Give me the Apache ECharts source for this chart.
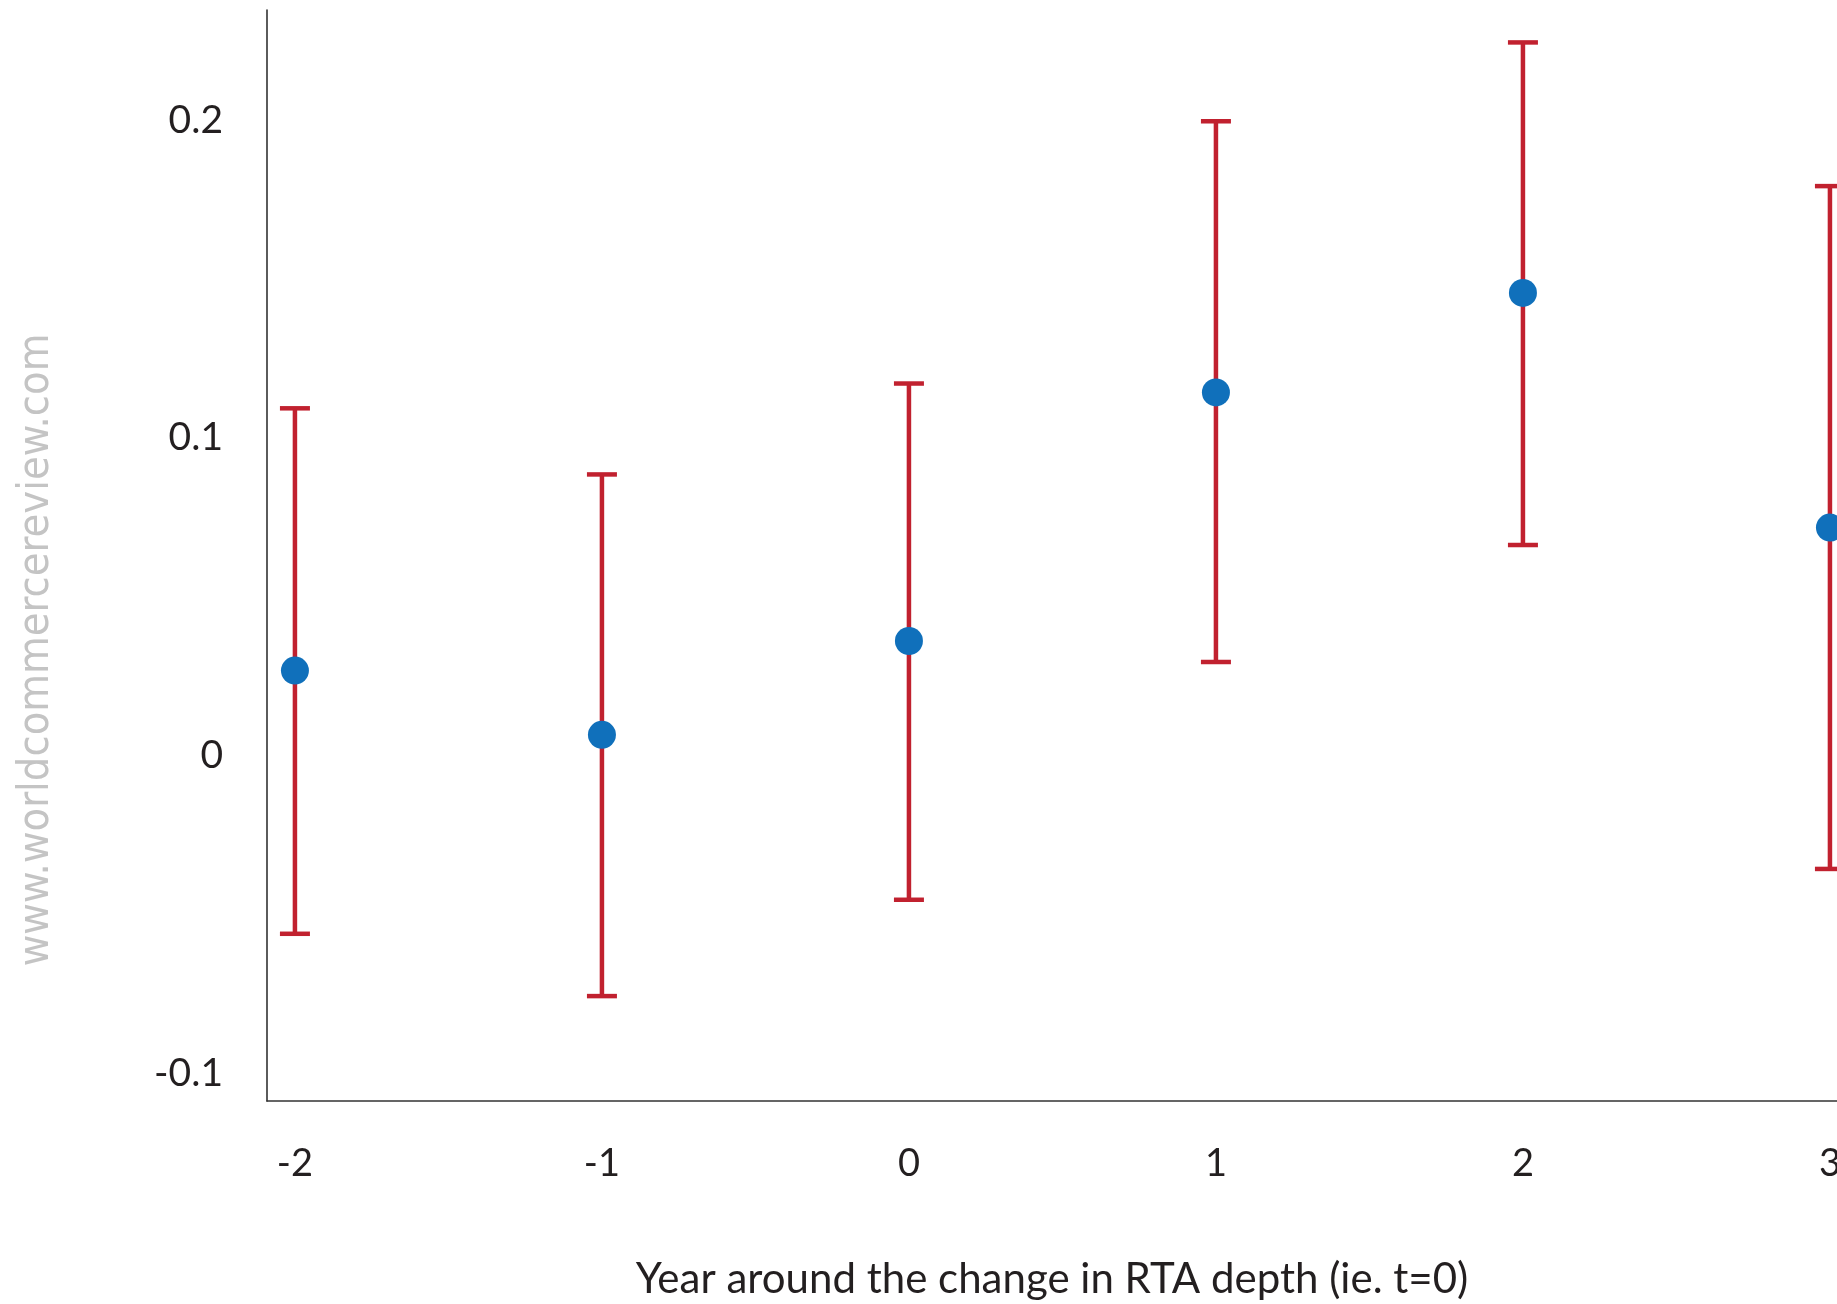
<!DOCTYPE html>
<html>
<head>
<meta charset="utf-8">
<script src="https://cdn.jsdelivr.net/npm/echarts@6/dist/echarts.min.js"></script>
<style>
  html, body { margin: 0; padding: 0; background: #fff; overflow: hidden; }
  #chart { width: 1837px; height: 1304px; }
</style>
</head>
<body>
<div id="chart"></div>
<script>
// year relative to the change in RTA depth
var years = [-2, -1, 0, 1, 2, 3];
// point estimates and confidence bounds
var estimate = [0.0268, 0.0066, 0.0361, 0.1143, 0.1456, 0.0718];
var upper = [0.1093, 0.0885, 0.1171, 0.1996, 0.2244, 0.1792];
var lower = [-0.0560, -0.0756, -0.0453, 0.0295, 0.0663, -0.0356];
var yTicks = [-0.1, 0, 0.1, 0.2];

var font = "Lato";
var red = "#c1212f", blue = "#1070bb";

var bars = years.map(function (y, i) { return [y, lower[i], upper[i]]; });
var points = years.map(function (y, i) { return [y, estimate[i]]; });

var chart = echarts.init(document.getElementById("chart"));
chart.setOption({
  animation: false,
  grid: { left: 267, right: 0, top: 10, bottom: 203, containLabel: false, outerBoundsMode: "none" },
  xAxis: {
    type: "value", min: -2.091, max: 3.023,
    splitLine: { show: false },
    axisTick: { show: false },
    axisLine: { onZero: false, lineStyle: { color: "#333", width: 1.6 } },
    axisLabel: {
      customValues: years, margin: 44,
      fontFamily: font, fontSize: 38, color: "#231f20"
    },
    name: "Year around the change in RTA depth (ie. t=0)",
    nameLocation: "middle", nameGap: 157,
    nameTextStyle: { fontFamily: font, fontSize: 42, color: "#231f20" }
  },
  yAxis: {
    type: "value", min: -0.1086, max: 0.2346,
    splitLine: { show: false },
    axisTick: { show: false },
    axisLine: { show: true, onZero: false, lineStyle: { color: "#333", width: 1.6 } },
    axisLabel: {
      customValues: yTicks, margin: 44,
      fontFamily: font, fontSize: 39, color: "#231f20"
    }
  },
  graphic: [{
    type: "text", x: 37, y: 650, rotation: Math.PI / 2,
    style: {
      text: "www.worldcommercereview.com",
      font: "43px 'Liberation Sans Narrow', 'DejaVu Sans Condensed', sans-serif",
      fill: "#c4c4c4", align: "center", verticalAlign: "middle"
    }
  }],
  series: [{
    type: "custom",
    data: bars,
    renderItem: function (params, api) {
      var top = api.coord([api.value(0), api.value(2)]);
      var bot = api.coord([api.value(0), api.value(1)]);
      var hw = 15;
      var st = { stroke: red, lineWidth: 4.5, fill: null };
      return {
        type: "group",
        children: [
          { type: "line", shape: { x1: top[0], y1: top[1], x2: bot[0], y2: bot[1] }, style: st },
          { type: "line", shape: { x1: top[0] - hw, y1: top[1], x2: top[0] + hw, y2: top[1] }, style: st },
          { type: "line", shape: { x1: bot[0] - hw, y1: bot[1], x2: bot[0] + hw, y2: bot[1] }, style: st }
        ]
      };
    },
    z: 2
  }, {
    type: "scatter",
    data: points,
    symbolSize: 28,
    itemStyle: { color: blue, opacity: 1 },
    z: 3
  }]
});
</script>
</body>
</html>
